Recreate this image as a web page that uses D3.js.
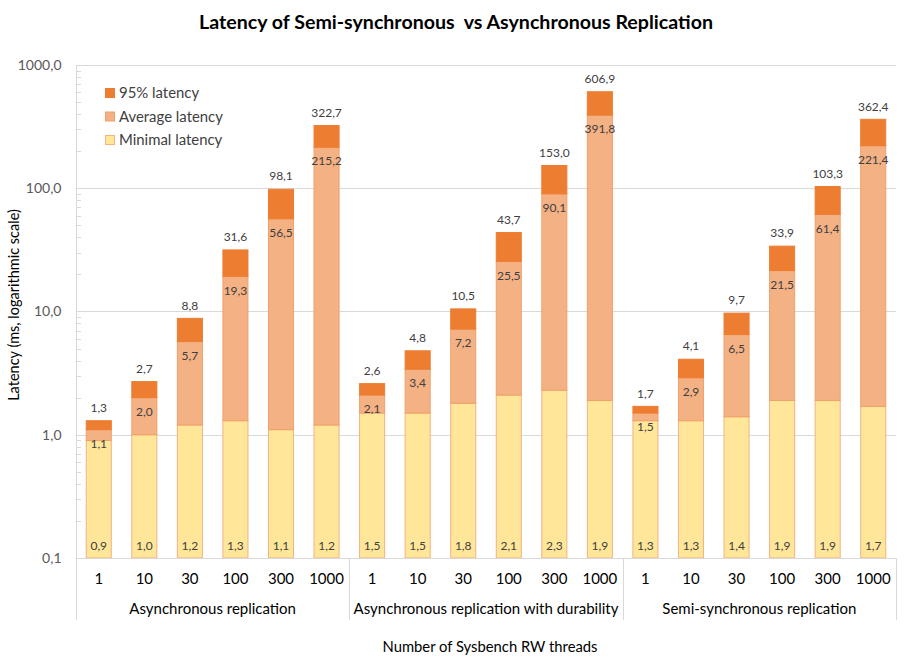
<!DOCTYPE html>
<html>
<head>
<meta charset="utf-8">
<script src="https://cdn.jsdelivr.net/npm/d3@7"></script>
<style>
  body { margin: 0; background: #fff; }
  svg { display: block; font-family: Lato, "Open Sans", sans-serif; }
</style>
</head>
<body>
<div id="chart"></div>
<script>
const groups = ["Asynchronous replication", "Asynchronous replication with durability", "Semi-synchronous replication"];
const threads = ["1", "10", "30", "100", "300", "1000"];

const minimal = [0.9, 1.0, 1.2, 1.3, 1.1, 1.2, 1.5, 1.5, 1.8, 2.1, 2.3, 1.9, 1.3, 1.3, 1.4, 1.9, 1.9, 1.7];
const average = [1.1, 2.0, 5.7, 19.3, 56.5, 215.2, 2.1, 3.4, 7.2, 25.5, 90.1, 391.8, 1.5, 2.9, 6.5, 21.5, 61.4, 221.4];
const p95 = [1.3, 2.7, 8.8, 31.6, 98.1, 322.7, 2.6, 4.8, 10.5, 43.7, 153.0, 606.9, 1.7, 4.1, 9.7, 33.9, 103.3, 362.4];

const yTicks = [0.1, 1, 10, 100, 1000];

const width = 911, height = 662;
const plotLeft = 76, plotRight = 896, plotTop = 65, plotBottom = 558;

const locale = d3.formatLocale({ decimal: ",", thousands: " ", grouping: [3], currency: ["", ""] });
const fmt = locale.format(".1f");

const svg = d3.select("#chart").append("svg")
  .attr("width", width)
  .attr("height", height)
  .attr("viewBox", `0 0 ${width} ${height}`);

const cats = d3.range(minimal.length);
const x = d3.scaleBand().domain(cats).range([plotLeft, plotRight]).paddingInner(0.45).paddingOuter(0.225);
const y = d3.scaleLog().domain([0.1, 1000]).range([plotBottom, plotTop]);

// gridlines
svg.append("g").selectAll("line")
  .data(yTicks.slice(1))
  .join("line")
  .attr("x1", plotLeft).attr("x2", plotRight)
  .attr("y1", d => Math.round(y(d)) + 0.5).attr("y2", d => Math.round(y(d)) + 0.5)
  .attr("stroke", "#d9d9d9");

// minor ticks
const minors = [];
yTicks.slice(0, -1).forEach(d => { for (let k = 2; k <= 9; k++) minors.push(d * k); });
svg.append("g").selectAll("line")
  .data(minors)
  .join("line")
  .attr("x1", plotLeft).attr("x2", plotLeft + 5)
  .attr("y1", d => Math.round(y(d)) + 0.5).attr("y2", d => Math.round(y(d)) + 0.5)
  .attr("stroke", "#d9d9d9");

// y axis line
svg.append("line")
  .attr("x1", plotLeft + 0.5).attr("x2", plotLeft + 0.5)
  .attr("y1", plotTop).attr("y2", plotBottom)
  .attr("stroke", "#d9d9d9");

// y tick labels
svg.append("g").selectAll("text")
  .data(yTicks)
  .join("text")
  .attr("x", 61.5)
  .attr("y", d => y(d))
  .attr("dy", "0.35em")
  .attr("text-anchor", "end")
  .attr("fill", "#595959")
  .attr("font-size", "14px")
  .text(d => fmt(d));

// bars: each segment runs from the previous series value up to its own
const series = [
  { name: "Minimal latency", values: minimal, base: () => 0.1, fill: "#FFE699", stroke: "#F4B183" },
  { name: "Average latency", values: average, base: i => minimal[i], fill: "#F4B183", stroke: "#F0A06A" },
  { name: "95% latency", values: p95, base: i => average[i], fill: "#ED7D31", stroke: "#ED7D31" }
];

series.forEach(s => {
  svg.append("g").selectAll("rect")
    .data(cats)
    .join("rect")
    .attr("x", i => x(i))
    .attr("width", x.bandwidth())
    .attr("y", i => y(s.values[i]))
    .attr("height", i => y(s.base(i)) - y(s.values[i]))
    .attr("fill", s.fill)
    .attr("stroke", s.stroke)
    .attr("stroke-width", 1);
});

// data labels
const labels = svg.append("g").attr("fill", "#404040").attr("font-size", "12px").attr("text-anchor", "middle");
labels.selectAll(".lmin").data(cats).join("text")
  .attr("class", "lmin")
  .attr("x", i => x(i) + x.bandwidth() / 2)
  .attr("y", plotBottom - 12)
  .attr("dy", "0.35em")
  .text(i => fmt(minimal[i]));
labels.selectAll(".lavg").data(cats).join("text")
  .attr("class", "lavg")
  .attr("x", i => x(i) + x.bandwidth() / 2)
  .attr("y", i => y(average[i]) + 14)
  .attr("dy", "0.35em")
  .text(i => fmt(average[i]));
labels.selectAll(".lp95").data(cats).join("text")
  .attr("class", "lp95")
  .attr("x", i => x(i) + x.bandwidth() / 2)
  .attr("y", i => y(p95[i]) - 13)
  .attr("dy", "0.35em")
  .text(i => fmt(p95[i]));

// x axis line
svg.append("line")
  .attr("x1", plotLeft).attr("x2", plotRight)
  .attr("y1", plotBottom + 0.5).attr("y2", plotBottom + 0.5)
  .attr("stroke", "#d9d9d9");

// group separators
const step = x.step();
svg.append("g").selectAll("line")
  .data(d3.range(groups.length + 1))
  .join("line")
  .attr("x1", g => Math.round(plotLeft + g * threads.length * step) + 0.5)
  .attr("x2", g => Math.round(plotLeft + g * threads.length * step) + 0.5)
  .attr("y1", plotBottom).attr("y2", 620)
  .attr("stroke", "#d9d9d9");

// thread labels
svg.append("g").selectAll("text")
  .data(cats)
  .join("text")
  .attr("x", i => x(i) + x.bandwidth() / 2)
  .attr("y", 579)
  .attr("dy", "0.35em")
  .attr("text-anchor", "middle")
  .attr("fill", "#000")
  .attr("font-size", "15px")
  .text(i => threads[i % threads.length]);

// group labels
svg.append("g").selectAll("text")
  .data(groups)
  .join("text")
  .attr("x", (d, g) => plotLeft + (g + 0.5) * threads.length * step)
  .attr("y", 609)
  .attr("dy", "0.35em")
  .attr("text-anchor", "middle")
  .attr("fill", "#000")
  .attr("font-size", "15px")
  .text(d => d);

// axis titles
svg.append("text")
  .attr("x", 490).attr("y", 647)
  .attr("dy", "0.35em")
  .attr("text-anchor", "middle")
  .attr("font-size", "14.8px")
  .attr("fill", "#000")
  .text("Number of Sysbench RW threads");

svg.append("text")
  .attr("transform", "translate(13.5,305) rotate(-90)")
  .attr("dy", "0.35em")
  .attr("text-anchor", "middle")
  .attr("font-size", "14.5px")
  .attr("fill", "#000")
  .text("Latency (ms, logarithmic scale)");

// title
svg.append("text")
  .attr("x", 456).attr("y", 22)
  .attr("dy", "0.35em")
  .attr("text-anchor", "middle")
  .attr("font-size", "19.6px")
  .attr("font-weight", "bold")
  .attr("fill", "#000")
  .text("Latency of Semi-synchronous\u00a0 vs Asynchronous Replication");

// legend
const legendItems = series.slice().reverse();
const legend = svg.append("g").attr("class", "legend");
legendItems.forEach((s, k) => {
  legend.append("rect")
    .attr("x", 105.5).attr("y", 88.5 + k * 23.5)
    .attr("width", 9).attr("height", 9)
    .attr("fill", s.fill)
    .attr("stroke", s.stroke);
  legend.append("text")
    .attr("x", 119).attr("y", 93 + k * 23.5)
    .attr("dy", "0.35em")
    .attr("fill", "#404040")
    .attr("font-size", "14.9px")
    .text(s.name);
});
</script>
</body>
</html>
